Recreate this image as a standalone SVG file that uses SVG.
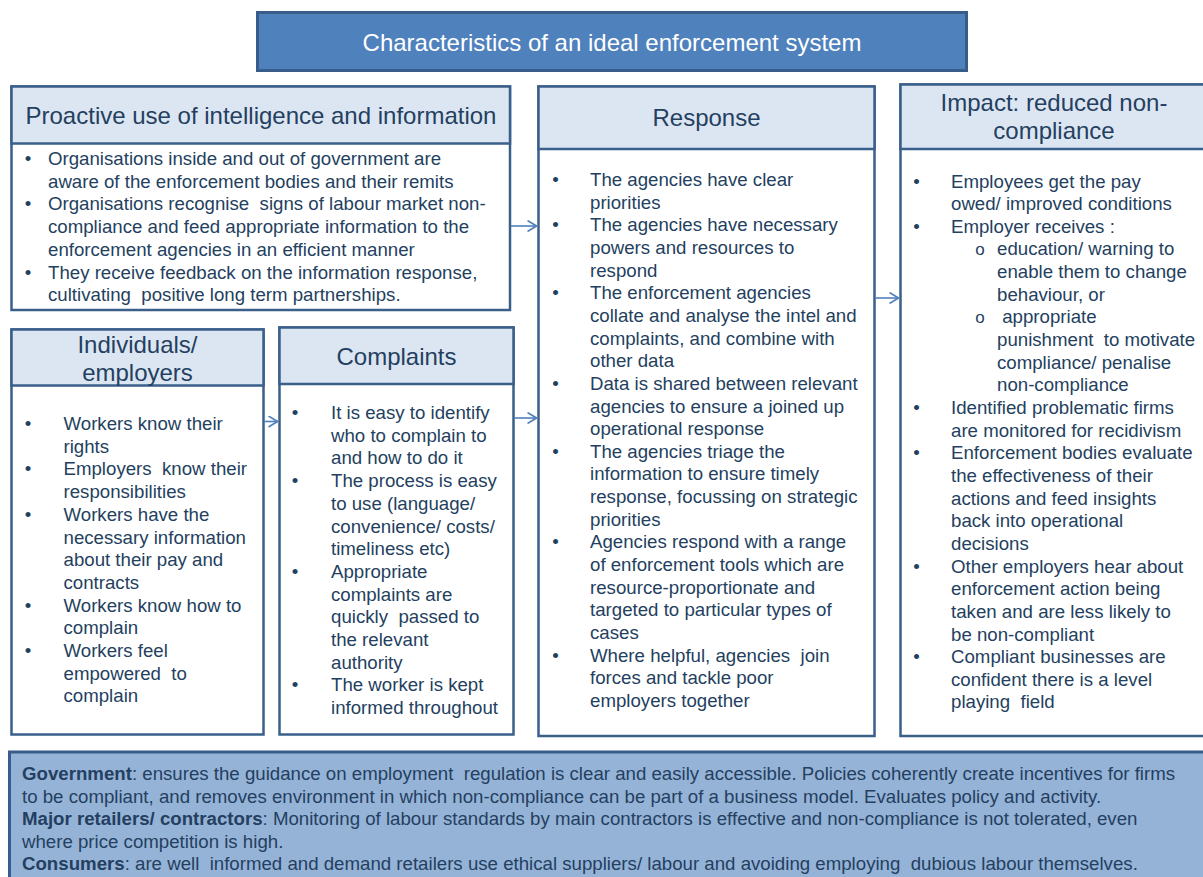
<svg xmlns="http://www.w3.org/2000/svg" width="1203" height="877" viewBox="0 0 1203 877" xml:space="preserve">
<style>
.box{fill:#ffffff;stroke:#3A5F8B;stroke-width:2.5}
.hd{fill:#DCE6F2;stroke:#3A5F8B;stroke-width:2.5}
.ttl{fill:#4F81BD;stroke:#385D8A;stroke-width:3}
.foot{fill:#95B3D7;stroke:#385D8A;stroke-width:3}
text{font-family:"Liberation Sans",Arial,sans-serif;font-size:18.67px;fill:#243F60;white-space:pre}
.h{font-size:24px;text-anchor:middle}
.tt{font-size:24px;text-anchor:middle;fill:#ffffff}
.bu{text-anchor:middle}
.sb{text-anchor:middle;font-size:17px}
.conn{stroke:#4F81BD;stroke-width:1.6;fill:none}
.bd{font-weight:bold}
</style>
<defs>
<marker id="arr" viewBox="0 0 10 12" refX="10" refY="6" markerWidth="10" markerHeight="12" markerUnits="userSpaceOnUse" orient="auto">
<path d="M0.5,0.5 L9.5,6 L0.5,11.5" fill="none" stroke="#4F81BD" stroke-width="1.6"/>
</marker>
</defs>

<!-- title banner -->
<g id="title">
<rect class="ttl" x="257.5" y="12.5" width="709" height="58"/>
<text class="tt" x="612" y="50.5">Characteristics of an ideal enforcement system</text>
</g>

<!-- intelligence and information -->
<g id="proactive">
<rect class="box" x="11.5" y="86.5" width="498.5" height="223.5"/>
<rect class="hd" x="11.5" y="86.5" width="498.5" height="57"/>
<text class="h" x="261" y="123.5">Proactive use of intelligence and information</text>
<text class="bu" x="28" y="165">•</text>
<text x="48" y="165">Organisations inside and out of government are</text>
<text x="48" y="187.7">aware of the enforcement bodies and their remits</text>
<text class="bu" x="28" y="210.4">•</text>
<text x="48" y="210.4">Organisations recognise  signs of labour market non-</text>
<text x="48" y="233.1">compliance and feed appropriate information to the</text>
<text x="48" y="255.8">enforcement agencies in an efficient manner</text>
<text class="bu" x="28" y="278.5">•</text>
<text x="48" y="278.5">They receive feedback on the information response,</text>
<text x="48" y="301.2">cultivating  positive long term partnerships.</text>
</g>

<!-- individuals / employers -->
<g id="individuals">
<rect class="box" x="11.5" y="329.5" width="252" height="405"/>
<rect class="hd" x="11.5" y="329.5" width="252" height="56"/>
<text class="h" x="137.5" y="352.5">Individuals/</text>
<text class="h" x="137.5" y="381">employers</text>
<text class="bu" x="28" y="430">•</text>
<text x="63.5" y="430">Workers know their</text>
<text x="63.5" y="452.7">rights</text>
<text class="bu" x="28" y="475.4">•</text>
<text x="63.5" y="475.4">Employers  know their</text>
<text x="63.5" y="498.1">responsibilities</text>
<text class="bu" x="28" y="520.8">•</text>
<text x="63.5" y="520.8">Workers have the</text>
<text x="63.5" y="543.5">necessary information</text>
<text x="63.5" y="566.2">about their pay and</text>
<text x="63.5" y="588.9">contracts</text>
<text class="bu" x="28" y="611.6">•</text>
<text x="63.5" y="611.6">Workers know how to</text>
<text x="63.5" y="634.3">complain</text>
<text class="bu" x="28" y="657">•</text>
<text x="63.5" y="657">Workers feel</text>
<text x="63.5" y="679.7">empowered  to</text>
<text x="63.5" y="702.4">complain</text>
</g>

<!-- complaints -->
<g id="complaints">
<rect class="box" x="279.5" y="327.5" width="234" height="407"/>
<rect class="hd" x="279.5" y="327.5" width="234" height="56.5"/>
<text class="h" x="396.5" y="365">Complaints</text>
<text class="bu" x="295" y="419">•</text>
<text x="331" y="419">It is easy to identify</text>
<text x="331" y="441.7">who to complain to</text>
<text x="331" y="464.4">and how to do it</text>
<text class="bu" x="295" y="487.1">•</text>
<text x="331" y="487.1">The process is easy</text>
<text x="331" y="509.8">to use (language/</text>
<text x="331" y="532.5">convenience/ costs/</text>
<text x="331" y="555.2">timeliness etc)</text>
<text class="bu" x="295" y="577.9">•</text>
<text x="331" y="577.9">Appropriate</text>
<text x="331" y="600.6">complaints are</text>
<text x="331" y="623.3">quickly  passed to</text>
<text x="331" y="646">the relevant</text>
<text x="331" y="668.7">authority</text>
<text class="bu" x="295" y="691.4">•</text>
<text x="331" y="691.4">The worker is kept</text>
<text x="331" y="714.1">informed throughout</text>
</g>

<!-- response -->
<g id="response">
<rect class="box" x="538.5" y="86.5" width="336" height="649.5"/>
<rect class="hd" x="538.5" y="86.5" width="336" height="62.5"/>
<text class="h" x="706.5" y="125.5">Response</text>
<text class="bu" x="555.5" y="186">•</text>
<text x="590" y="186">The agencies have clear</text>
<text x="590" y="208.65">priorities</text>
<text class="bu" x="555.5" y="231.3">•</text>
<text x="590" y="231.3">The agencies have necessary</text>
<text x="590" y="253.95">powers and resources to</text>
<text x="590" y="276.6">respond</text>
<text class="bu" x="555.5" y="299.25">•</text>
<text x="590" y="299.25">The enforcement agencies</text>
<text x="590" y="321.9">collate and analyse the intel and</text>
<text x="590" y="344.55">complaints, and combine with</text>
<text x="590" y="367.2">other data</text>
<text class="bu" x="555.5" y="389.85">•</text>
<text x="590" y="389.85">Data is shared between relevant</text>
<text x="590" y="412.5">agencies to ensure a joined up</text>
<text x="590" y="435.15">operational response</text>
<text class="bu" x="555.5" y="457.8">•</text>
<text x="590" y="457.8">The agencies triage the</text>
<text x="590" y="480.45">information to ensure timely</text>
<text x="590" y="503.1">response, focussing on strategic</text>
<text x="590" y="525.75">priorities</text>
<text class="bu" x="555.5" y="548.4">•</text>
<text x="590" y="548.4">Agencies respond with a range</text>
<text x="590" y="571.05">of enforcement tools which are</text>
<text x="590" y="593.7">resource-proportionate and</text>
<text x="590" y="616.35">targeted to particular types of</text>
<text x="590" y="639">cases</text>
<text class="bu" x="555.5" y="661.65">•</text>
<text x="590" y="661.65">Where helpful, agencies  join</text>
<text x="590" y="684.3">forces and tackle poor</text>
<text x="590" y="706.95">employers together</text>
</g>

<!-- impact -->
<g id="impact">
<rect class="box" x="900.5" y="84.5" width="310" height="651.5"/>
<rect class="hd" x="900.5" y="84.5" width="310" height="64.5"/>
<text class="h" x="1054" y="111">Impact: reduced non-</text>
<text class="h" x="1054" y="139">compliance</text>
<text class="bu" x="916.5" y="187.5">•</text>
<text x="951" y="187.5">Employees get the pay</text>
<text x="951" y="210.15">owed/ improved conditions</text>
<text class="bu" x="916.5" y="232.8">•</text>
<text x="951" y="232.8">Employer receives :</text>
<text class="sb" x="980" y="255.45">o</text>
<text x="997" y="255.45">education/ warning to</text>
<text x="997" y="278.1">enable them to change</text>
<text x="997" y="300.75">behaviour, or</text>
<text class="sb" x="980" y="323.4">o</text>
<text x="997" y="323.4"> appropriate</text>
<text x="997" y="346.05">punishment  to motivate</text>
<text x="997" y="368.7">compliance/ penalise</text>
<text x="997" y="391.35">non-compliance</text>
<text class="bu" x="916.5" y="414">•</text>
<text x="951" y="414">Identified problematic firms</text>
<text x="951" y="436.65">are monitored for recidivism</text>
<text class="bu" x="916.5" y="459.3">•</text>
<text x="951" y="459.3">Enforcement bodies evaluate</text>
<text x="951" y="481.95">the effectiveness of their</text>
<text x="951" y="504.6">actions and feed insights</text>
<text x="951" y="527.25">back into operational</text>
<text x="951" y="549.9">decisions</text>
<text class="bu" x="916.5" y="572.55">•</text>
<text x="951" y="572.55">Other employers hear about</text>
<text x="951" y="595.2">enforcement action being</text>
<text x="951" y="617.85">taken and are less likely to</text>
<text x="951" y="640.5">be non-compliant</text>
<text class="bu" x="916.5" y="663.15">•</text>
<text x="951" y="663.15">Compliant businesses are</text>
<text x="951" y="685.8">confident there is a level</text>
<text x="951" y="708.45">playing  field</text>
</g>

<!-- wider actors -->
<g id="actors">
<rect class="foot" x="9.5" y="752" width="1205" height="140"/>
<text x="22" y="780"><tspan class="bd">Government</tspan>: ensures the guidance on employment  regulation is clear and easily accessible. Policies coherently create incentives for firms</text>
<text x="22" y="802.5">to be compliant, and removes environment in which non-compliance can be part of a business model. Evaluates policy and activity.</text>
<text x="22" y="825"><tspan class="bd">Major retailers/ contractors</tspan>: Monitoring of labour standards by main contractors is effective and non-compliance is not tolerated, even</text>
<text x="22" y="847.5">where price competition is high.</text>
<text x="22" y="870"><tspan class="bd">Consumers</tspan>: are well  informed and demand retailers use ethical suppliers/ labour and avoiding employing  dubious labour themselves.</text>
</g>

<!-- flow arrows -->
<g id="connectors">
<line class="conn" x1="511" y1="226" x2="537" y2="226" marker-end="url(#arr)"/>
<line class="conn" x1="264.5" y1="421.5" x2="278" y2="421.5" marker-end="url(#arr)"/>
<line class="conn" x1="514.5" y1="418" x2="537" y2="418" marker-end="url(#arr)"/>
<line class="conn" x1="875.5" y1="298" x2="899" y2="298" marker-end="url(#arr)"/>
</g>
</svg>
